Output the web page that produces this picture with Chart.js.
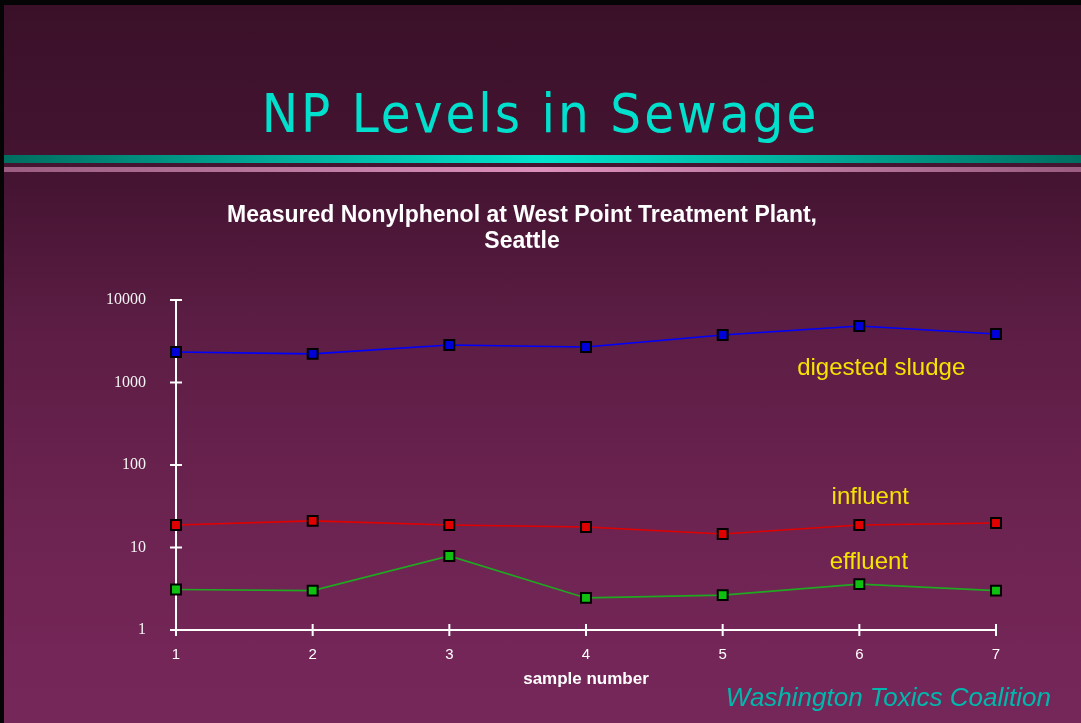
<!DOCTYPE html>
<html>
<head>
<meta charset="utf-8">
<script src="https://cdn.jsdelivr.net/npm/chart.js@4.4.1/dist/chart.umd.min.js"></script>
<style>
    html, body { margin: 0; padding: 0; }
    body {
        width: 1081px;
        height: 723px;
        position: relative;
        overflow: hidden;
        background: linear-gradient(to bottom, #3a1028 0%, #451432 25%, #5c1d44 45%, #6e2452 75%, #76275a 100%);
        font-family: 'Liberation Sans', Arial, sans-serif;
    }
    .frame-top { position: absolute; left: 0; top: 0; width: 1081px; height: 5px; background: #050505; }
    .frame-left { position: absolute; left: 0; top: 0; width: 4px; height: 723px; background: #050505; }
    .slide-title {
        position: absolute;
        left: 0; width: 1081px;
        top: 82px;
        text-align: center;
        font-family: 'Liberation Sans Narrow', 'DejaVu Sans Condensed', sans-serif;
        font-size: 54px;
        letter-spacing: 3px;
        color: #00e0cc;
    }
    .bar-teal {
        position: absolute; left: 4px; top: 155px; width: 1077px; height: 8px;
        background: linear-gradient(to right, #006e60 0%, #00b8a4 30%, #00e4cc 50%, #00b8a4 70%, #006e60 100%);
    }
    .bar-pink {
        position: absolute; left: 4px; top: 167px; width: 1077px; height: 5px;
        background: linear-gradient(to right, #9a5c80 0%, #c07ca4 30%, #dc90bc 50%, #c07ca4 70%, #9a5c80 100%);
    }
    .credit {
        position: absolute; right: 30px; top: 682px;
        font-style: italic; font-size: 26px; color: #00b8ac;
    }
    #chart { position: absolute; left: 0; top: 0; }
</style>
</head>
<body>
<div class="frame-top"></div>
<div class="frame-left"></div>
<div class="slide-title">NP Levels in Sewage</div>
<div class="bar-teal"></div>
<div class="bar-pink"></div>
<canvas id="chart" width="1081" height="723"></canvas>
<div class="credit">Washington Toxics Coalition</div>

<script>
// Data (log scale, NP concentration)
const samples = ['1', '2', '3', '4', '5', '6', '7'];
const sludge = [2340, 2220, 2850, 2690, 3770, 4840, 3870];
const influent = [18.7, 21, 18.7, 17.7, 14.6, 18.7, 19.8];
const effluent = [3.1, 3.0, 7.9, 2.45, 2.65, 3.6, 3.0];
const yTicks = [1, 10, 100, 1000, 10000];

const seriesLabels = ['digested sludge', 'influent', 'effluent'];
// where the in-plot labels sit: [x index (fractional), y value]
const labelSpots = [[5.16, 1500], [5.08, 40], [5.07, 6.6]];

const AXIS = '#ffffff';
const SANS = "'Liberation Sans', Arial, sans-serif";

/**
 * Cross tick marks on both axes plus the in-plot series labels
 */
const slideDecor = {
    id: 'slideDecor',
    afterDraw(chart) {
        const ctx = chart.ctx;
        const x = chart.scales.x;
        const y = chart.scales.y;
        ctx.save();
        ctx.strokeStyle = AXIS;
        ctx.lineWidth = 2;
        yTicks.forEach(v => {
            const py = y.getPixelForValue(v);
            ctx.beginPath();
            ctx.moveTo(x.left - 6, py);
            ctx.lineTo(x.left + 6, py);
            ctx.stroke();
        });
        samples.forEach((s, i) => {
            const px = x.getPixelForValue(i);
            ctx.beginPath();
            ctx.moveTo(px, y.bottom - 6);
            ctx.lineTo(px, y.bottom + 6);
            ctx.stroke();
        });

        ctx.fillStyle = '#f4e400';
        ctx.font = '24px ' + SANS;
        ctx.textAlign = 'center';
        ctx.textBaseline = 'middle';
        seriesLabels.forEach((t, i) => {
            const [xi, yv] = labelSpots[i];
            ctx.fillText(t, x.getPixelForValue(xi), y.getPixelForValue(yv));
        });
        ctx.restore();
    }
};

function lineSet(label, data, line, fill) {
    return {
        label,
        data,
        borderColor: line,
        borderWidth: 1.6,
        backgroundColor: fill,
        pointStyle: 'rect',
        pointRadius: 7,
        pointBorderColor: '#000',
        pointBorderWidth: 2,
        tension: 0,
        clip: false
    };
}

new Chart(document.getElementById('chart'), {
    type: 'line',
    data: {
        labels: samples,
        datasets: [
            lineSet('digested sludge', sludge, '#0000ff', '#0000d8'),
            lineSet('influent', influent, '#e00000', '#e00000'),
            lineSet('effluent', effluent, '#20a820', '#10c010')
        ]
    },
    options: {
        responsive: false,
        animation: false,
        layout: { padding: { left: 48, right: 85, top: 0, bottom: 0 } },
        plugins: {
            legend: { display: false },
            tooltip: { enabled: false },
            title: {
                display: true,
                text: ['Measured Nonylphenol at West Point Treatment Plant,', 'Seattle'],
                color: '#ffffff',
                font: { family: SANS, size: 23, weight: 'bold', lineHeight: 1.13 },
                padding: { top: 203, bottom: 45 }
            }
        },
        scales: {
            x: {
                type: 'category',
                offset: false,
                grid: { display: false, drawTicks: false },
                border: { color: AXIS, width: 2 },
                ticks: {
                    color: '#ffffff',
                    padding: 16,
                    font: { family: SANS, size: 15 }
                },
                title: {
                    display: true,
                    text: 'sample number',
                    color: '#ffffff',
                    font: { family: SANS, size: 17, weight: 'bold' },
                    padding: { top: 0, bottom: 33 }
                },
                afterFit(scale) { scale.height = 93; }
            },
            y: {
                type: 'logarithmic',
                min: 1,
                max: 10000,
                grid: { display: false, drawTicks: false },
                border: { color: AXIS, width: 2 },
                afterBuildTicks(scale) {
                    scale.ticks = yTicks.map(v => ({ value: v }));
                },
                ticks: {
                    color: '#f4f4f4',
                    padding: 30,
                    autoSkip: false,
                    font: { family: "'Liberation Serif', 'Times New Roman', serif", size: 16 },
                    callback: v => String(v)
                },
                afterFit(scale) { scale.width = 128; }
            }
        }
    },
    plugins: [slideDecor]
});
</script>
</body>
</html>
